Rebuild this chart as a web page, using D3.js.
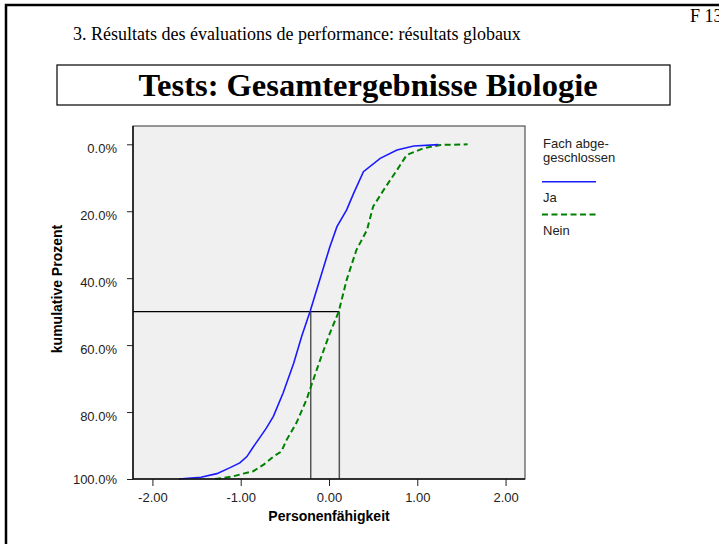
<!DOCTYPE html>
<html>
<head>
<meta charset="utf-8">
<script src="https://cdn.jsdelivr.net/npm/d3@7"></script>
<style>
  body { margin: 0; background: #fff; }
  svg { display: block; }
  .sans { font-family: "Liberation Sans", Arial, sans-serif; }
  .serif { font-family: "Liberation Serif", "Times New Roman", serif; }
</style>
</head>
<body>
<div id="chart"></div>
<script>
// cumulative curves (x = Personenfähigkeit, p = kumulative Prozent)
var jaX = [-1.70, -1.45, -1.27, -1.12, -1.01, -0.93, -0.86, -0.78, -0.71, -0.63, -0.52, -0.40, -0.31, -0.21, -0.14, -0.07, 0.01, 0.09, 0.20, 0.28, 0.39, 0.58, 0.77, 0.96, 1.24];
var jaP = [100, 99.5, 98.4, 96.6, 95.2, 93.3, 90.5, 87.5, 84.8, 81.3, 74.3, 65.4, 57.4, 49.6, 43.5, 37.5, 30.6, 24.6, 19.6, 14.6, 8.2, 4.2, 1.7, 0.5, 0.1];

var neinX = [-1.29, -1.10, -0.97, -0.86, -0.74, -0.63, -0.54, -0.48, -0.37, -0.25, -0.21, -0.10, 0.01, 0.11, 0.20, 0.31, 0.43, 0.50, 0.62, 0.77, 0.88, 1.07, 1.26, 1.57];
var neinP = [100, 99.3, 98.4, 97.7, 95.7, 93.3, 91.8, 88.3, 83.3, 76.0, 72.8, 64.4, 56.4, 50.0, 40.5, 31.6, 25.6, 18.6, 13.6, 7.7, 3.2, 1.2, 0.2, 0.0];

// medians (50% reference lines)
var medians = [-0.207, 0.117];

var xTicks = [-2, -1, 0, 1, 2];
var yTicks = [0, 20, 40, 60, 80, 100];
var legendTitle = ["Fach abge-", "geschlossen"];
var legendLabels = ["Ja", "Nein"];

var width = 719, height = 544;
var plotLeft = 133, plotRight = 525, plotTop = 126, plotBottom = 479;

var svg = d3.select("#chart").append("svg")
    .attr("width", width)
    .attr("height", height);

// page frame
svg.append("rect")
    .attr("x", 6).attr("y", 5)
    .attr("width", 780).attr("height", 620)
    .attr("fill", "none")
    .attr("stroke", "#000")
    .attr("stroke-width", 2.5);

svg.append("text")
    .attr("class", "serif")
    .attr("x", 690).attr("y", 22)
    .style("font-size", "18px")
    .text("F 13");

svg.append("text")
    .attr("class", "serif")
    .attr("x", 73).attr("y", 40)
    .style("font-size", "18px")
    .text("3. Résultats des évaluations de performance: résultats globaux");

// title box
svg.append("rect")
    .attr("x", 57).attr("y", 65)
    .attr("width", 613).attr("height", 40)
    .attr("fill", "none")
    .attr("stroke", "#000")
    .attr("stroke-width", 1.2);

svg.append("text")
    .attr("class", "serif")
    .attr("x", 368).attr("y", 96)
    .attr("text-anchor", "middle")
    .style("font-size", "32.5px")
    .style("font-weight", "bold")
    .text("Tests: Gesamtergebnisse Biologie");

var x = d3.scaleLinear()
    .domain([-2.22, 2.22])
    .range([plotLeft, plotRight]);

var y = d3.scaleLinear()
    .domain([0, 100])
    .range([144.3, plotBottom]);

// plot background
svg.append("rect")
    .attr("x", plotLeft).attr("y", plotTop)
    .attr("width", plotRight - plotLeft)
    .attr("height", plotBottom - plotTop)
    .attr("fill", "#f0f0f0")
    .attr("stroke", "#333")
    .attr("stroke-width", 1);

// reference lines at 50%
svg.append("line")
    .attr("x1", plotLeft).attr("x2", x(d3.max(medians)))
    .attr("y1", y(50)).attr("y2", y(50))
    .attr("stroke", "#000")
    .attr("stroke-width", 1.2);

svg.selectAll(".median")
    .data(medians)
    .enter()
    .append("line")
    .attr("class", "median")
    .attr("x1", function (d) { return x(d); })
    .attr("x2", function (d) { return x(d); })
    .attr("y1", y(50))
    .attr("y2", plotBottom)
    .attr("stroke", "#555")
    .attr("stroke-width", 1.5);

var line = d3.line()
    .x(function (d) { return x(d[0]); })
    .y(function (d) { return y(d[1]); });

svg.append("path")
    .datum(d3.zip(neinX, neinP))
    .attr("d", line)
    .attr("fill", "none")
    .attr("stroke", "#008000")
    .attr("stroke-width", 2)
    .attr("stroke-dasharray", "6,3.5");

svg.append("path")
    .datum(d3.zip(jaX, jaP))
    .attr("d", line)
    .attr("fill", "none")
    .attr("stroke", "#1a1aff")
    .attr("stroke-width", 1.6);

// axes
var yAxis = d3.axisLeft(y)
    .tickValues(yTicks)
    .tickSize(6)
    .tickSizeOuter(0)
    .tickPadding(10)
    .tickFormat(function (d) { return d.toFixed(1) + "%"; });

var gy = svg.append("g")
    .attr("class", "sans")
    .attr("transform", "translate(" + plotLeft + ",0)")
    .call(yAxis);
gy.select(".domain").remove();
gy.selectAll("text")
    .attr("y", function (d) { return d == 100 ? 0 : 4.5; })
    .style("font-size", "13px")
    .attr("fill", "#222");
gy.selectAll("line").attr("stroke", "#222");

var xAxis = d3.axisBottom(x)
    .tickValues(xTicks)
    .tickSize(7)
    .tickSizeOuter(0)
    .tickPadding(7)
    .tickFormat(function (d) { return d.toFixed(2); });

var gx = svg.append("g")
    .attr("class", "sans")
    .attr("transform", "translate(0," + plotBottom + ")")
    .call(xAxis);
gx.select(".domain").remove();
gx.selectAll("text")
    .style("font-size", "13px")
    .attr("fill", "#222");
gx.selectAll("line").attr("stroke", "#222");

// axis lines along the left and bottom edges
svg.append("path")
    .attr("d", "M" + plotLeft + "," + plotTop + "V" + plotBottom + "H" + plotRight)
    .attr("fill", "none")
    .attr("stroke", "#111")
    .attr("stroke-width", 1.5);

svg.append("text")
    .attr("class", "sans")
    .attr("x", (plotLeft + plotRight) / 2)
    .attr("y", 521)
    .attr("text-anchor", "middle")
    .style("font-size", "14px")
    .style("font-weight", "bold")
    .text("Personenfähigkeit");

svg.append("text")
    .attr("class", "sans")
    .attr("transform", "translate(62,289)rotate(-90)")
    .attr("text-anchor", "middle")
    .style("font-size", "14px")
    .style("font-weight", "bold")
    .text("kumulative Prozent");

// legend
var legend = svg.append("g").attr("class", "sans").style("font-size", "13px").attr("fill", "#222");
legend.selectAll(".ltitle")
    .data(legendTitle)
    .enter()
    .append("text")
    .attr("x", 543)
    .attr("y", function (d, i) { return 148 + i * 13.5; })
    .text(function (d) { return d; });

var legendStyles = [
    { color: "#1a1aff", dash: null, w: 1.6 },
    { color: "#008000", dash: "6,3.5", w: 2 }
];
legendLabels.forEach(function (lab, i) {
    legend.append("line")
        .attr("x1", 542).attr("x2", 596)
        .attr("y1", 181.7 + i * 32.7).attr("y2", 181.7 + i * 32.7)
        .attr("stroke", legendStyles[i].color)
        .attr("stroke-width", legendStyles[i].w)
        .attr("stroke-dasharray", legendStyles[i].dash);
    legend.append("text")
        .attr("x", 543)
        .attr("y", 201.7 + i * 33.3)
        .text(lab);
});
</script>
</body>
</html>
